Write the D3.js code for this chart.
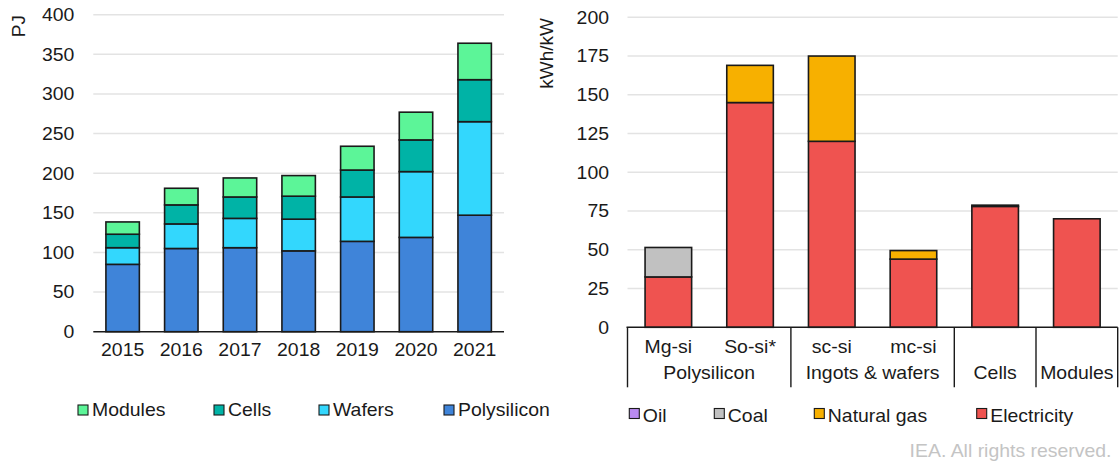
<!DOCTYPE html>
<html><head><meta charset="utf-8">
<script src="https://cdn.jsdelivr.net/npm/d3@7/dist/d3.min.js"></script>
<style>
body{margin:0;background:#fff}
svg{display:block}
text{font-family:"Liberation Sans",Arial,Helvetica,sans-serif;fill:#1a1a1a}
</style>
</head><body>
<svg id="c" width="1120" height="471"></svg>
<script>
// ---------- Left chart data (PJ) ----------
const years = ["2015","2016","2017","2018","2019","2020","2021"];
const polysilicon = [85,105,106,102,114,119,147];
const wafers = [21,31,37,40,56,83,118];
const cells = [17,24,27,29,34,40,53];
const modules = [15.5,21,24,26,30,35,46];
const leftTicks = [0,50,100,150,200,250,300,350,400];
const leftSeries = ["Polysilicon","Wafers","Cells","Modules"];
const leftLegendOrder = ["Modules","Cells","Wafers","Polysilicon"];

// ---------- Right chart data (kWh/kW) ----------
const stages = ["Mg-si","So-si*","sc-si","mc-si","Cells","Modules"];
const stageLabels = ["Mg-si","So-si*","sc-si","mc-si","",""];
const groupNames = ["Polysilicon","Ingots & wafers","Cells","Modules"];
const groupMembers = [["Mg-si","So-si*"],["sc-si","mc-si"],["Cells"],["Modules"]];
const electricity = [32.5,145,120,44,78,70];
const naturalGas = [0,24,55,5.5,0.8,0];
const coal = [19,0,0,0,0,0];
const oil = [0,0,0,0,0,0];
const rightTicks = [0,25,50,75,100,125,150,175,200];
const rightSeries = ["Electricity","Natural gas","Coal","Oil"];
const rightLegendOrder = ["Oil","Coal","Natural gas","Electricity"];

const colors = {
  "Polysilicon":"#3f84d9","Wafers":"#33d7fd","Cells":"#00b3a6","Modules":"#5cf598",
  "Electricity":"#ef5350","Natural gas":"#f7b000","Coal":"#c1c1c1","Oil":"#b98af0"
};

const SX = 1.08;   // horizontal text stretch
const FS = 18;
const svg = d3.select("#c");

function label(g, x, y, txt, anchor, opts={}) {
  return g.append("text")
    .attr("transform", `translate(${x},${y}) scale(${SX},1)`)
    .attr("text-anchor", anchor || "start")
    .style("font-size", (opts.size||FS)+"px")
    .style("fill", opts.fill || "#1a1a1a")
    .text(txt);
}

// ================= LEFT CHART =================
const L = {x0:93.3, x1:504, y0:331.7, y1:14.7};
const xL = d3.scaleBand().domain(years).range([L.x0, L.x1]).paddingInner(0.43).paddingOuter(0.215);
const yL = d3.scaleLinear().domain([0,400]).range([L.y0, L.y1]);

const gL = svg.append("g");
gL.append("g").selectAll("line").data(leftTicks.filter(d=>d>0)).join("line")
  .attr("x1", L.x0).attr("x2", L.x1)
  .attr("y1", d=>yL(d)).attr("y2", d=>yL(d))
  .attr("stroke", "#e3e3e3").attr("stroke-width", 1.5);
leftTicks.forEach(t => label(gL, L.x0-19, yL(t)+6.3, String(t), "end"));

const leftRows = years.map((y,i)=>({year:y, "Polysilicon":polysilicon[i], "Wafers":wafers[i], "Cells":cells[i], "Modules":modules[i]}));
const stackL = d3.stack().keys(leftSeries)(leftRows);
gL.append("g").selectAll("g").data(stackL).join("g")
  .attr("fill", d=>colors[d.key])
  .selectAll("rect").data(d=>d).join("rect")
  .attr("x", d=>xL(d.data.year))
  .attr("width", xL.bandwidth())
  .attr("y", d=>yL(d[1]))
  .attr("height", d=>yL(d[0])-yL(d[1]))
  .attr("stroke", "#1a1a1a").attr("stroke-width", 1.6);

gL.append("line").attr("x1", L.x0).attr("x2", L.x1).attr("y1", L.y0).attr("y2", L.y0)
  .attr("stroke", "#1a1a1a").attr("stroke-width", 1.6);
years.forEach(y => label(gL, xL(y)+xL.bandwidth()/2, L.y0+24.5, y, "middle"));
gL.append("text").attr("transform", `translate(24.5,15) rotate(-90)`)
  .attr("text-anchor","end").style("font-size", "19px").text("PJ");

const legL = [{k:"Modules",x:78},{k:"Cells",x:214},{k:"Wafers",x:319},{k:"Polysilicon",x:444}];
legL.forEach(d=>{
  gL.append("rect").attr("x", d.x).attr("y", 405).attr("width", 10).attr("height", 10)
    .attr("fill", colors[d.k]).attr("stroke", "#1a1a1a").attr("stroke-width", 1.1);
  label(gL, d.x+14, 416.3, d.k, "start");
});

// ================= RIGHT CHART =================
const R = {x0:627.5, x1:1117.7, y0:327.3, y1:17.3};
const xR = d3.scaleBand().domain(stages).range([R.x0, R.x1]).paddingInner(0.43).paddingOuter(0.215);
const yR = d3.scaleLinear().domain([0,200]).range([R.y0, R.y1]);

const gR = svg.append("g");
gR.append("g").selectAll("line").data(rightTicks.filter(d=>d>0)).join("line")
  .attr("x1", R.x0).attr("x2", R.x1)
  .attr("y1", d=>yR(d)).attr("y2", d=>yR(d))
  .attr("stroke", "#e3e3e3").attr("stroke-width", 1.5);
rightTicks.forEach(t => label(gR, R.x0-18.5, yR(t)+6.3, String(t), "end"));

const rightRows = stages.map((s,i)=>({stage:s, "Electricity":electricity[i], "Natural gas":naturalGas[i], "Coal":coal[i], "Oil":oil[i]}));
const stackR = d3.stack().keys(rightSeries)(rightRows);
gR.append("g").selectAll("g").data(stackR).join("g")
  .attr("fill", d=>colors[d.key])
  .selectAll("rect").data(d=>d.filter(v=>v[1]-v[0]>0)).join("rect")
  .attr("x", d=>xR(d.data.stage))
  .attr("width", xR.bandwidth())
  .attr("y", d=>yR(d[1]))
  .attr("height", d=>yR(d[0])-yR(d[1]))
  .attr("stroke", "#1a1a1a").attr("stroke-width", 1.6);

gR.append("line").attr("x1", R.x0-1).attr("x2", R.x1).attr("y1", R.y0).attr("y2", R.y0)
  .attr("stroke", "#1a1a1a").attr("stroke-width", 1.6);
const sepX = [R.x0];
groupMembers.forEach(m => { const last = m[m.length-1]; sepX.push(xR(last) - xR.step()*xR.paddingInner()/2 + xR.step()); });
gR.append("g").selectAll("line").data(sepX).join("line")
  .attr("x1", d=>d).attr("x2", d=>d).attr("y1", R.y0).attr("y2", R.y0+60)
  .attr("stroke", "#1a1a1a").attr("stroke-width", 1.4);
stages.forEach((s,i) => { if (stageLabels[i]) label(gR, xR(s)+xR.bandwidth()/2, R.y0+25.4, stageLabels[i], "middle"); });
groupNames.forEach((g,i) => {
  const m = groupMembers[i];
  const cx = (xR(m[0]) + xR(m[m.length-1]) + xR.bandwidth())/2;
  label(gR, cx, R.y0+51.7, g, "middle");
});
gR.append("text").attr("transform", `translate(553,18) rotate(-90)`)
  .attr("text-anchor","end").style("font-size", "19px").text("kWh/kW");

const legR = [{k:"Oil",x:629.3},{k:"Coal",x:714.3},{k:"Natural gas",x:814.3},{k:"Electricity",x:976.7}];
legR.forEach(d=>{
  gR.append("rect").attr("x", d.x).attr("y", 408.5).attr("width", 10).attr("height", 10)
    .attr("fill", colors[d.k]).attr("stroke", "#1a1a1a").attr("stroke-width", 1.1);
  label(gR, d.x+13.5, 421.7, d.k, "start");
});

label(svg, 1111.5, 456.7, "IEA. All rights reserved.", "end", {fill:"#c4c4c4", size:18});
</script>
</body></html>
